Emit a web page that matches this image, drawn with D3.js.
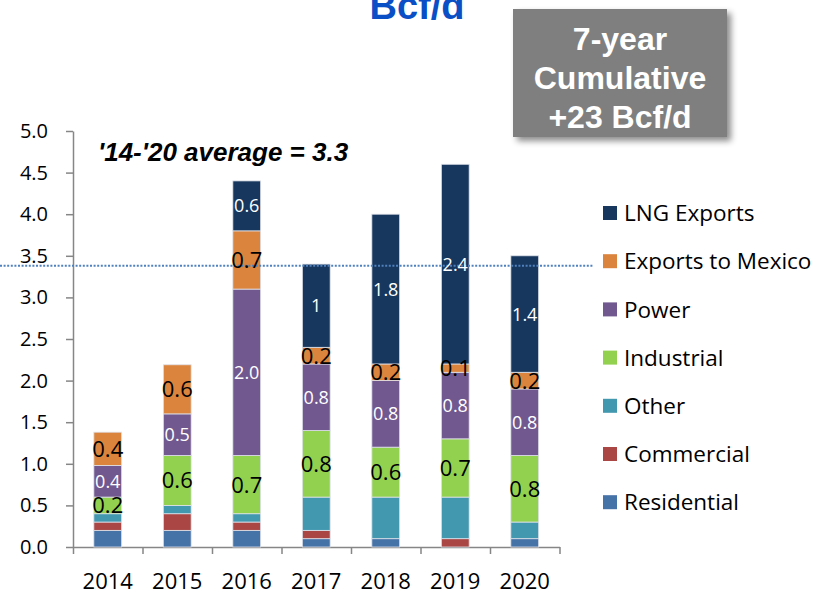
<!DOCTYPE html>
<html>
<head>
<meta charset="utf-8">
<script src="https://cdn.jsdelivr.net/npm/d3@7"></script>
<style>
  html, body { margin: 0; padding: 0; background: #fff; }
  svg { display: block; }
</style>
</head>
<body>
<script>
// stacked gas demand growth, Bcf/d
var years = ["2014", "2015", "2016", "2017", "2018", "2019", "2020"];
var residential = [0.2, 0.2, 0.2, 0.1, 0.1, 0, 0.1];
var commercial = [0.1, 0.2, 0.1, 0.1, 0, 0.1, 0];
var other = [0.1, 0.1, 0.1, 0.4, 0.5, 0.5, 0.2];
var industrial = [0.2, 0.6, 0.7, 0.8, 0.6, 0.7, 0.8];
var power = [0.38, 0.5, 2.0, 0.8, 0.8, 0.8, 0.8];
var mexico = [0.4, 0.59, 0.7, 0.2, 0.2, 0.1, 0.2];
var lng = [0, 0, 0.6, 1.0, 1.8, 2.4, 1.4];
var yTicks = [0, 0.5, 1, 1.5, 2, 2.5, 3, 3.5, 4, 4.5, 5];
var averageLine = 3.38;

var seriesKeys = ["Residential", "Commercial", "Other", "Industrial", "Power", "Exports to Mexico", "LNG Exports"];
var seriesValues = [residential, commercial, other, industrial, power, mexico, lng];
var seriesColors = ["#4572a7", "#aa4643", "#4198af", "#92d050", "#71588f", "#db843d", "#17375e"];
// which series get a value label, and its colour / size
var labelStyle = {
  "Industrial": { fill: "#000", size: 22 },
  "Power": { fill: "#fff", size: 18 },
  "Exports to Mexico": { fill: "#000", size: 22 },
  "LNG Exports": { fill: "#fff", size: 18 }
};

var table = years.map(function (y, i) {
  var row = { year: y };
  seriesKeys.forEach(function (k, j) { row[k] = seriesValues[j][i]; });
  return row;
});

var width = 821, height = 593;
var svg = d3.select(document.body).append("svg")
  .attr("width", width)
  .attr("height", height)
  .style("font-family", "'Open Sans', sans-serif");

var defs = svg.append("defs");
defs.append("filter")
  .attr("id", "shadow")
  .attr("x", "-10%").attr("y", "-10%")
  .attr("width", "130%").attr("height", "130%")
  .append("feDropShadow")
  .attr("dx", 4).attr("dy", 4)
  .attr("stdDeviation", 3)
  .attr("flood-color", "#000")
  .attr("flood-opacity", 0.45);

var x = d3.scaleBand()
  .domain(years)
  .range([73, 559.5])
  .paddingInner(0.6)
  .paddingOuter(0.3);

var y = d3.scaleLinear()
  .domain([0, 5])
  .range([547, 131]);

var color = d3.scaleOrdinal().domain(seriesKeys).range(seriesColors);

var stacked = d3.stack().keys(seriesKeys)(table);

// title (partly cut off at the top)
svg.append("text")
  .attr("x", 417)
  .attr("y", 19)
  .attr("text-anchor", "middle")
  .style("font-family", "'Liberation Sans', Arial, sans-serif")
  .style("font-weight", "bold")
  .style("font-size", "38px")
  .style("fill", "#0a4fc6")
  .text("Bcf/d");

// y axis
var yAxis = svg.append("g")
  .attr("transform", "translate(73,0)")
  .call(d3.axisLeft(y)
    .tickValues(yTicks)
    .tickFormat(d3.format(".1f"))
    .tickSize(7)
    .tickSizeOuter(0)
    .tickPadding(18));
yAxis.select(".domain").attr("stroke", "#868686").attr("stroke-width", 1.5);
yAxis.selectAll(".tick line").attr("stroke", "#868686").attr("stroke-width", 1.5);
yAxis.selectAll(".tick text")
  .style("font-family", "'Open Sans', sans-serif")
  .style("font-size", "20px")
  .attr("fill", "#000");

// x axis: boundary ticks
var bounds = d3.scaleLinear().domain([0, years.length]).range(x.range());
var xTickAxis = svg.append("g")
  .attr("transform", "translate(0,547)")
  .call(d3.axisBottom(bounds)
    .tickValues(d3.range(years.length + 1))
    .tickFormat("")
    .tickSize(7)
    .tickSizeOuter(0));
xTickAxis.select(".domain").attr("stroke", "#868686").attr("stroke-width", 1.5);
xTickAxis.selectAll(".tick line").attr("stroke", "#868686").attr("stroke-width", 1.5);

var xAxis = svg.append("g")
  .attr("transform", "translate(0,547)")
  .call(d3.axisBottom(x).tickSize(0).tickPadding(26));
xAxis.select(".domain").remove();
xAxis.selectAll(".tick text")
  .style("font-family", "'Open Sans', sans-serif")
  .style("font-size", "22px")
  .attr("fill", "#000");

// bars
var layers = svg.append("g")
  .selectAll("g")
  .data(stacked)
  .join("g")
  .attr("fill", function (d) { return color(d.key); });

layers.selectAll("rect")
  .data(function (d) { return d; })
  .join("rect")
  .attr("x", function (d) { return x(d.data.year); })
  .attr("width", x.bandwidth())
  .attr("y", function (d) { return y(d[1]); })
  .attr("height", function (d) { return y(d[0]) - y(d[1]); })
  .attr("stroke", "#dfe2ea")
  .attr("stroke-width", 0.8);

// average line
svg.append("line")
  .attr("x1", 0)
  .attr("x2", 593)
  .attr("y1", y(averageLine))
  .attr("y2", y(averageLine))
  .attr("stroke", "#4f81bd")
  .attr("stroke-width", 2)
  .attr("stroke-dasharray", "2,1.6");

// value labels
var fmtLng = function (v) { return String(v); };
var fmtOther = d3.format(".1f");
var labels = svg.append("g").attr("text-anchor", "middle");
stacked.forEach(function (layer) {
  var st = labelStyle[layer.key];
  if (!st) return;
  labels.selectAll(null)
    .data(layer.filter(function (d) { return d[1] - d[0] > 0; }))
    .join("text")
    .attr("x", function (d) { return x(d.data.year) + x.bandwidth() / 2; })
    .attr("y", function (d) { return (y(d[0]) + y(d[1])) / 2; })
    .attr("dy", "0.36em")
    .style("font-size", st.size + "px")
    .attr("fill", st.fill)
    .text(function (d) {
      var v = d.data[layer.key];
      return layer.key === "LNG Exports" ? fmtLng(v) : fmtOther(v);
    });
});

// average annotation
svg.append("text")
  .attr("x", 98)
  .attr("y", 161)
  .style("font-family", "'Liberation Sans', Arial, sans-serif")
  .style("font-weight", "bold")
  .style("font-style", "italic")
  .style("font-size", "26px")
  .attr("fill", "#000")
  .text("'14-'20 average = 3.3");

// cumulative box
var box = svg.append("g");
box.append("rect")
  .attr("x", 513)
  .attr("y", 9)
  .attr("width", 214)
  .attr("height", 128)
  .attr("fill", "#7f7f7f")
  .attr("filter", "url(#shadow)");
box.selectAll("text")
  .data(["7-year", "Cumulative", "+23 Bcf/d"])
  .join("text")
  .attr("x", 620)
  .attr("y", function (d, i) { return 50 + i * 38.8; })
  .attr("text-anchor", "middle")
  .style("font-family", "'Liberation Sans', Arial, sans-serif")
  .style("font-weight", "bold")
  .style("font-size", "32px")
  .attr("fill", "#fff")
  .text(function (d) { return d; });

// legend (top to bottom = LNG .. Residential)
var legend = svg.append("g")
  .selectAll("g")
  .data(seriesKeys.slice().reverse())
  .join("g")
  .attr("transform", function (d, i) { return "translate(603," + (213 + i * 48.2) + ")"; });
legend.append("rect")
  .attr("x", 0)
  .attr("y", -7)
  .attr("width", 14)
  .attr("height", 14)
  .attr("fill", function (d) { return color(d); });
legend.append("text")
  .attr("x", 21)
  .attr("dy", "0.36em")
  .style("font-size", "22.5px")
  .attr("fill", "#000")
  .text(function (d) { return d; });
</script>
</body>
</html>
